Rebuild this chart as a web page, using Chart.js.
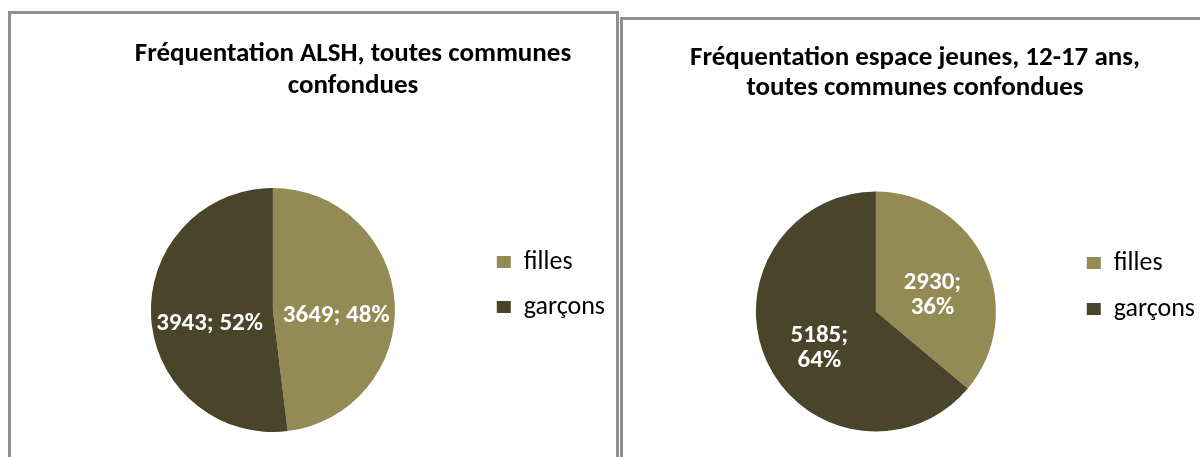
<!DOCTYPE html>
<html>
<head>
<meta charset="utf-8">
<script src="https://cdn.jsdelivr.net/npm/chart.js@4.4.0/dist/chart.umd.min.js"></script>
<style>
  html, body { margin: 0; padding: 0; background: #fff; overflow: hidden; width: 1200px; height: 457px; }
  .panel { position: absolute; box-sizing: border-box; border: 3px solid #8f8f8f; background: #fff; }
  #p1 { left: 8px; top: 11px; width: 611px; height: 480px; }
  #p2 { left: 620px; top: 17px; width: 620px; height: 480px; }
  canvas { position: absolute; left: 0; top: 0; }
</style>
</head>
<body>
<div class="panel" id="p1"><canvas id="c1" width="605" height="443"></canvas></div>
<div class="panel" id="p2"><canvas id="c2" width="600" height="437"></canvas></div>
<script>
// --- données ---
const categories = ["filles", "garçons"];
const alshValues = [3649, 3943];
const jeunesValues = [2930, 5185];
const alshTitle = ["Fréquentation ALSH, toutes communes", "confondues"];
const jeunesTitle = ["Fréquentation espace jeunes, 12-17 ans,", "toutes communes confondues"];
const sliceColors = ["#948a54", "#4a452a"];

const FONT = "Carlito, Lato, 'Open Sans', sans-serif";

// étiquettes "valeur; pourcentage" dans les parts
const sliceLabels = {
  id: "sliceLabels",
  afterDatasetsDraw(chart, args, opts) {
    const ctx = chart.ctx;
    const vals = chart.data.datasets[0].data;
    const total = vals.reduce((a, b) => a + b, 0);
    chart.getDatasetMeta(0).data.forEach((arc, i) => {
      const p = arc.getProps(["x", "y", "startAngle", "endAngle", "outerRadius"], true);
      const mid = (p.startAngle + p.endAngle) / 2;
      const r = p.outerRadius * opts.radius;
      const x = p.x + Math.cos(mid) * r;
      const y = p.y + Math.sin(mid) * r + opts.dy;
      const pct = Math.round(vals[i] / total * 100) + "%";
      const lines = opts.wrap ? [vals[i] + ";", pct] : [vals[i] + "; " + pct];
      ctx.save();
      ctx.fillStyle = "#fff";
      ctx.font = "bold 25px " + FONT;
      ctx.textAlign = "center";
      ctx.textBaseline = "middle";
      lines.forEach((t, k) => ctx.fillText(t, x, y + (k - (lines.length - 1) / 2) * 25));
      ctx.restore();
    });
  }
};

// recentre le titre (Excel ne le centre pas sur le graphique)
const titleShift = {
  id: "titleShift",
  afterLayout(chart, args, opts) {
    const t = chart.titleBlock;
    if (!t) return;
    const w = t.right - t.left;
    t.left = opts.centerX - w / 2;
    t.right = t.left + w;
  }
};

function makePie(id, values, title, o) {
  return new Chart(document.getElementById(id), {
    type: "pie",
    data: {
      labels: categories,
      datasets: [{
        data: values,
        backgroundColor: sliceColors,
        borderWidth: 0,
        hoverBorderWidth: 0,
        hoverOffset: 0,
        offset: 0
      }]
    },
    options: {
      responsive: false,
      animation: false,
      events: [],
      layout: { padding: o.padding },
      plugins: {
        title: {
          display: true,
          text: title,
          color: "#000",
          font: { family: FONT, size: 27, weight: "bold", lineHeight: o.titleLine / 27 },
          padding: o.titlePad
        },
        legend: {
          position: "right",
          align: "start",
          fullSize: false,
          title: { display: true, text: "", font: { size: 10, lineHeight: 1 }, padding: { top: o.legendTop, bottom: 0 } },
          labels: {
            boxWidth: 14,
            boxHeight: 12,
            padding: o.legendGap,
            color: "#000",
            font: { family: FONT, size: 26 }
          }
        },
        tooltip: { enabled: false },
        sliceLabels: { radius: 0.52, dy: 10, wrap: o.wrap },
        titleShift: { centerX: o.titleX }
      }
    },
    plugins: [sliceLabels, titleShift]
  });
}

makePie("c1", alshValues, alshTitle, {
  padding: { left: 57, right: 1, top: 0, bottom: 25 },
  titleLine: 32, titlePad: { top: 24, bottom: 86 },
  legendTop: 32, legendGap: 19, titleX: 342, wrap: false
});

makePie("c2", jeunesValues, jeunesTitle, {
  padding: { left: 62, right: 18, top: 0, bottom: 25.5 },
  titleLine: 30, titlePad: { top: 23, bottom: 88.5 },
  legendTop: 28.5, legendGap: 20, titleX: 292, wrap: true
});
</script>
</body>
</html>
